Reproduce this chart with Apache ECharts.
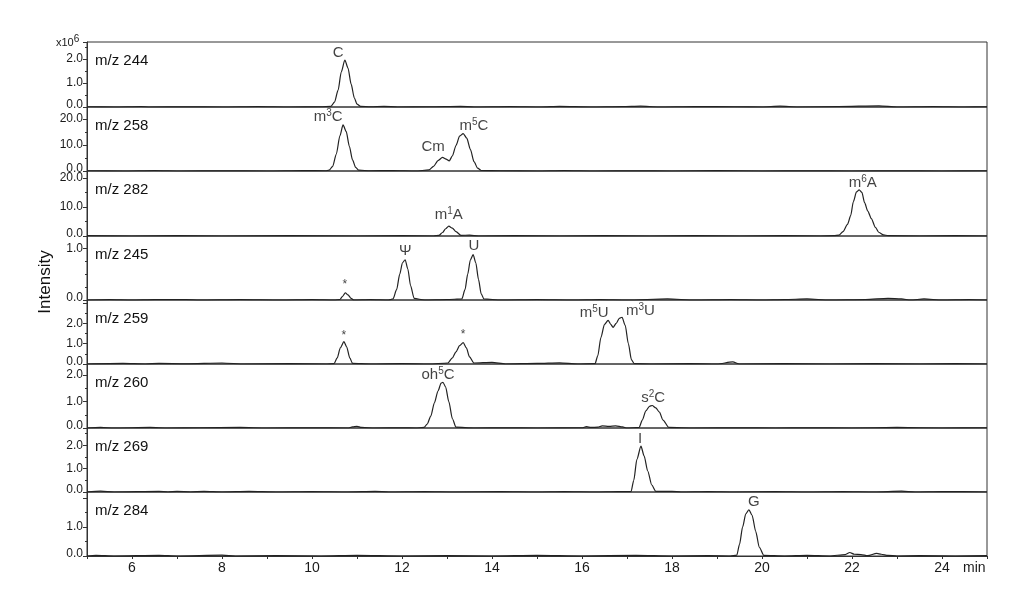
<!DOCTYPE html>
<html>
<head>
<meta charset="utf-8">
<script src="https://cdn.jsdelivr.net/npm/echarts@6/dist/echarts.min.js"></script>
<style>html,body{margin:0;padding:0;background:#fff;}#c{width:1024px;height:615px;}</style>
</head>
<body>
<div id="c"></div>
<script>
// ---------- data ----------
const panelNames = ['m/z 244', 'm/z 258', 'm/z 282', 'm/z 245', 'm/z 259', 'm/z 260', 'm/z 269', 'm/z 284'];
const yMaxes = [2.7, 24.6, 22.4, 1.24, 3.15, 2.42, 2.74, 2.2];
const yIntervals = [1, 10, 10, 1, 1, 1, 1, 1];
const yMinorSplit = [2, 2, 2, 4, 2, 2, 2, 2];
const yTickLabels = [[0, 1, 2], [0, 10, 20], [0, 10, 20], [0, 1], [0, 1, 2], [0, 1, 2], [0, 1, 2], [0, 1]];
const xTickLabels = [6, 8, 10, 12, 14, 16, 18, 20, 22, 24];

const trace244 = [[5,0.01],[5.6,0.0],[6.2,0.02],[6.4,0.0],[7.2,0.01],[8,0.0],[8.8,0.02],[9.5,0.0],[10.2,0.01],[10.42,0.03],[10.5,0.2],[10.58,0.7],[10.65,1.45],[10.73,1.95],[10.8,1.62],[10.87,0.95],[10.94,0.38],[11.0,0.12],[11.08,0.03],[11.3,0.01],[11.6,0.03],[11.9,0.0],[12.6,0.01],[13.3,0.03],[13.6,0.0],[14.4,0.02],[15.1,0.0],[15.5,0.03],[16.2,0.0],[16.9,0.02],[17.3,0.04],[17.7,0.0],[18.5,0.02],[19.4,0.01],[20.0,0.0],[20.4,0.04],[20.8,0.0],[21.7,0.02],[22.6,0.05],[23.0,0.0],[23.8,0.02],[24.5,0.0],[25,0.01]];
const trace258 = [[5,0.1],[5.8,0.0],[6.5,0.2],[7.1,0.0],[8.0,0.1],[9.0,0.0],[9.8,0.2],[10.3,0.1],[10.38,0.3],[10.46,1.8],[10.54,6.5],[10.62,13.5],[10.69,17.7],[10.76,15.2],[10.83,9.5],[10.9,4.3],[10.97,1.4],[11.04,0.3],[11.3,0.1],[11.8,0.2],[12.3,0.0],[12.6,0.4],[12.7,1.8],[12.8,4.0],[12.9,5.2],[12.98,4.6],[13.05,3.9],[13.12,5.8],[13.2,9.8],[13.28,13.4],[13.36,14.4],[13.44,12.6],[13.52,8.3],[13.6,3.6],[13.68,1.1],[13.76,0.2],[14.2,0.1],[15,0.0],[15.6,0.2],[16.3,0.0],[17.2,0.1],[18.0,0.0],[19.0,0.2],[20.0,0.0],[21.0,0.1],[22.0,0.0],[23.0,0.1],[24.0,0.0],[25,0.1]];
const trace282 = [[5,0.1],[6,0.0],[7,0.1],[8,0.0],[9.5,0.1],[11,0.0],[12,0.1],[12.7,0.0],[12.82,0.2],[12.9,1.2],[12.97,2.5],[13.04,3.4],[13.12,2.7],[13.2,1.5],[13.31,0.2],[13.5,0.3],[13.7,0.0],[14.5,0.1],[15.5,0.0],[16.5,0.1],[17.5,0.0],[18.5,0.1],[19.5,0.0],[20.5,0.1],[21.3,0.0],[21.6,0.1],[21.71,0.3],[21.8,1.5],[21.9,4.0],[21.97,7.0],[22.03,11.8],[22.1,15.2],[22.16,15.9],[22.22,15.0],[22.28,11.5],[22.35,8.6],[22.43,6.0],[22.52,3.0],[22.6,1.2],[22.7,0.4],[22.8,0.1],[23.5,0.0],[24.3,0.1],[25,0.0]];
const trace245 = [[5,0.0],[5.5,0.01],[6,0.0],[6.5,0.01],[7.2,0.01],[7.5,0.0],[8.4,0.01],[9.3,0.0],[10.0,0.01],[10.5,0.0],[10.62,0.01],[10.68,0.07],[10.74,0.14],[10.8,0.1],[10.87,0.03],[10.93,0.0],[11.3,0.01],[11.7,0.0],[11.8,0.02],[11.88,0.2],[11.95,0.5],[12.01,0.72],[12.07,0.78],[12.13,0.6],[12.19,0.28],[12.27,0.03],[12.5,0.0],[13.0,0.01],[13.33,0.02],[13.4,0.2],[13.46,0.5],[13.52,0.78],[13.58,0.88],[13.64,0.72],[13.7,0.4],[13.76,0.12],[13.82,0.02],[14.2,0.0],[15.0,0.01],[15.8,0.0],[16.4,0.01],[17.0,0.0],[17.9,0.02],[18.5,0.0],[19.3,0.01],[20.0,0.0],[20.5,0.01],[21.0,0.02],[21.5,0.0],[22.3,0.01],[22.8,0.03],[23.1,0.02],[23.3,0.0],[23.6,0.02],[24.0,0.0],[24.6,0.01],[25,0.0]];
const trace259 = [[5,0.0],[5.8,0.03],[6.3,0.0],[6.6,0.03],[7.2,0.01],[8.0,0.05],[8.5,0.0],[9.5,0.02],[10.3,0.0],[10.49,0.02],[10.56,0.3],[10.63,0.8],[10.71,1.1],[10.77,0.85],[10.84,0.3],[10.9,0.03],[11.3,0.0],[12.0,0.02],[12.6,0.0],[13.02,0.05],[13.12,0.3],[13.2,0.6],[13.28,0.9],[13.36,1.05],[13.43,0.8],[13.5,0.35],[13.6,0.05],[14.0,0.08],[14.3,0.0],[15.0,0.03],[15.5,0.06],[15.9,0.0],[16.29,0.02],[16.35,0.4],[16.42,1.3],[16.5,1.95],[16.58,2.15],[16.64,1.95],[16.69,1.8],[16.76,2.0],[16.83,2.25],[16.89,2.3],[16.96,1.9],[17.03,1.0],[17.1,0.2],[17.16,0.02],[17.6,0.0],[18.4,0.02],[19.0,0.0],[19.35,0.1],[19.5,0.0],[20.5,0.02],[21.5,0.0],[22.5,0.02],[23.5,0.0],[24.3,0.02],[25,0.0]];
const trace260 = [[5,0.0],[5.3,0.02],[5.6,0.0],[6.4,0.02],[6.8,0.0],[7.5,0.01],[8.4,0.02],[9.0,0.0],[10.0,0.01],[10.8,0.0],[10.9,0.04],[11.0,0.06],[11.1,0.02],[11.4,0.0],[12.0,0.01],[12.3,0.0],[12.49,0.02],[12.56,0.15],[12.64,0.45],[12.72,0.95],[12.8,1.4],[12.87,1.7],[12.91,1.73],[12.97,1.55],[13.04,1.0],[13.12,0.35],[13.2,0.03],[13.6,0.0],[14.3,0.01],[15.0,0.0],[16.0,0.01],[16.1,0.05],[16.2,0.02],[16.35,0.03],[16.45,0.08],[16.6,0.06],[16.75,0.08],[16.9,0.04],[17.0,0.0],[17.27,0.02],[17.34,0.3],[17.42,0.65],[17.5,0.82],[17.56,0.85],[17.64,0.76],[17.72,0.6],[17.8,0.3],[17.93,0.02],[18.5,0.0],[19.5,0.01],[20.3,0.0],[21.0,0.01],[22.0,0.0],[23.0,0.02],[24.0,0.0],[25,0.01]];
const trace269 = [[5,0.0],[5.3,0.04],[5.6,0.0],[6.6,0.03],[6.8,0.0],[7.0,0.03],[7.3,0.0],[7.6,0.03],[8.0,0.0],[8.6,0.03],[9.2,0.0],[10.0,0.02],[10.8,0.0],[11.4,0.03],[11.7,0.0],[12.5,0.02],[13.2,0.0],[14.2,0.02],[15.0,0.0],[15.6,0.02],[16.3,0.0],[16.8,0.02],[17.09,0.02],[17.15,0.5],[17.22,1.4],[17.31,1.96],[17.38,1.55],[17.46,0.9],[17.55,0.3],[17.64,0.03],[18.0,0.03],[18.2,0.0],[18.8,0.02],[19.4,0.0],[20.3,0.02],[21.0,0.0],[21.8,0.02],[22.5,0.0],[23.1,0.04],[23.4,0.0],[24.0,0.02],[25,0.0]];
const trace284 = [[5,0.0],[5.2,0.02],[5.6,0.0],[6.6,0.02],[7.0,0.0],[8.0,0.03],[8.3,0.0],[9.2,0.01],[10.2,0.0],[11.0,0.02],[12.0,0.0],[13.0,0.01],[14.0,0.0],[15.0,0.02],[16.0,0.0],[17.2,0.02],[18.0,0.0],[18.8,0.01],[19.3,0.0],[19.44,0.03],[19.5,0.4],[19.57,1.0],[19.64,1.45],[19.71,1.59],[19.78,1.4],[19.86,0.85],[19.94,0.3],[20.04,0.02],[20.5,0.0],[21.0,0.02],[21.5,0.0],[21.85,0.05],[21.95,0.12],[22.05,0.06],[22.2,0.05],[22.35,0.01],[22.55,0.09],[22.65,0.06],[22.8,0.02],[23.0,0.0],[23.5,0.01],[24.3,0.0],[25,0.01]];

// peak annotations: [time, intensity, text]  ({s|..} = superscript)
const labels244 = [[10.58, 2.25, 'C']];
const labels258 = [[10.36, 21, 'm{s|3}C'], [12.69, 9.4, 'Cm'], [13.6, 17.5, 'm{s|5}C']];
const labels282 = [[13.04, 7.2, 'm{s|1}A'], [22.24, 18.3, 'm{s|6}A']];
const labels245 = [[10.73, 0.3, '{a|*}'], [12.07, 0.95, 'Ψ'], [13.6, 1.04, 'U']];
const labels259 = [[10.71, 1.38, '{a|*}'], [13.36, 1.42, '{a|*}'], [16.27, 2.5, 'm{s|5}U'], [17.3, 2.6, 'm{s|3}U']];
const labels260 = [[12.8, 2.0, 'oh{s|5}C'], [17.58, 1.15, 's{s|2}C']];
const labels269 = [[17.29, 2.26, 'I']];
const labels284 = [[19.82, 1.86, 'G']];

const traces = [trace244, trace258, trace282, trace245, trace259, trace260, trace269, trace284];
const peakLabels = [labels244, labels258, labels282, labels245, labels259, labels260, labels269, labels284];

// ---------- layout ----------
const panelTops = [42, 107, 171, 236, 300, 364, 428, 492];
const plotBottom = 556;
const plotLeft = 87, plotRight = 37;
const FONT = 'Liberation Sans, Arial, Helvetica, sans-serif';
const INK = '#1a1a1a';
const AX = '#333';

const grids = [], xAxes = [], yAxes = [], series = [], graphics = [];
for (let i = 0; i < 8; i++) {
  const top = panelTops[i];
  const bottomY = i < 7 ? panelTops[i + 1] : plotBottom;
  const last = i === 7;
  grids.push({ left: plotLeft, right: plotRight, top: top, height: bottomY - top, show: true, borderColor: AX, borderWidth: 1, backgroundColor: 'transparent' });
  xAxes.push({
    type: 'value', gridIndex: i, min: 5, max: 25, interval: 1,
    axisLine: { show: last, lineStyle: { color: AX } },
    axisTick: { show: last, length: 3, lineStyle: { color: AX } },
    axisLabel: { show: last, margin: 5, fontSize: 14, color: INK, fontFamily: FONT,
      formatter: v => xTickLabels.indexOf(v) >= 0 ? String(v) : '' },
    splitLine: { show: false }
  });
  const shown = yTickLabels[i];
  yAxes.push({
    type: 'value', gridIndex: i, min: 0, max: yMaxes[i], interval: yIntervals[i],
    axisLine: { show: true, lineStyle: { color: AX } },
    axisTick: { show: true, length: 4, lineStyle: { color: AX } },
    minorTick: { show: true, splitNumber: yMinorSplit[i], length: 2, lineStyle: { color: AX } },
    axisLabel: { margin: 4, fontSize: 12, color: INK, fontFamily: FONT, showMaxLabel: false,
      formatter: v => shown.indexOf(v) >= 0 ? (v === 0 ? '{z|0.0}' : v.toFixed(1)) : '',
      rich: { z: { fontSize: 12, fontFamily: FONT, color: INK, padding: [0, 0, 5, 0] } } },
    splitLine: { show: false }
  });
  series.push({
    type: 'line', xAxisIndex: i, yAxisIndex: i, data: traces[i], showSymbol: false,
    smooth: 0.25, smoothMonotone: 'x',
    lineStyle: { color: '#222', width: 1.2 }, silent: true, animation: false
  });
  series.push({
    type: 'scatter', xAxisIndex: i, yAxisIndex: i, symbolSize: 0, silent: true, animation: false,
    data: peakLabels[i].map(d => ({ value: [d[0], d[1]], text: d[2] })),
    label: {
      show: true, position: 'inside', color: '#111', fontSize: 15, fontFamily: FONT,
      formatter: p => p.data.text,
      rich: {
        s: { fontSize: 10, fontFamily: FONT, color: '#111', padding: [0, 0, 7, 0] },
        a: { fontSize: 12, fontFamily: FONT, color: '#111' }
      }
    }
  });
  graphics.push({
    type: 'text', left: 95, top: top + 11,
    style: { text: panelNames[i], fontSize: 15, fontFamily: FONT, fill: '#111' }
  });
}

graphics.push({
  type: 'text', left: 56, top: 34,
  style: { text: 'x10{s|6}', fontSize: 11, fontFamily: FONT, fill: INK,
    rich: { s: { fontSize: 10, fontFamily: FONT, fill: INK, padding: [0, 0, 7, 0] } } }
});
graphics.push({
  type: 'text', x: 45, y: 282, rotation: Math.PI / 2,
  style: { text: 'Intensity', fontSize: 17, fontFamily: FONT, fill: '#111', align: 'center', verticalAlign: 'middle' }
});
graphics.push({
  type: 'text', left: 963, top: 561,
  style: { text: 'min', fontSize: 14, fontFamily: FONT, fill: INK }
});

const chart = echarts.init(document.getElementById('c'), null, { renderer: 'canvas' });
chart.setOption({
  animation: false,
  backgroundColor: '#fff',
  grid: grids, xAxis: xAxes, yAxis: yAxes, series: series, graphic: graphics
});
</script>
</body>
</html>
